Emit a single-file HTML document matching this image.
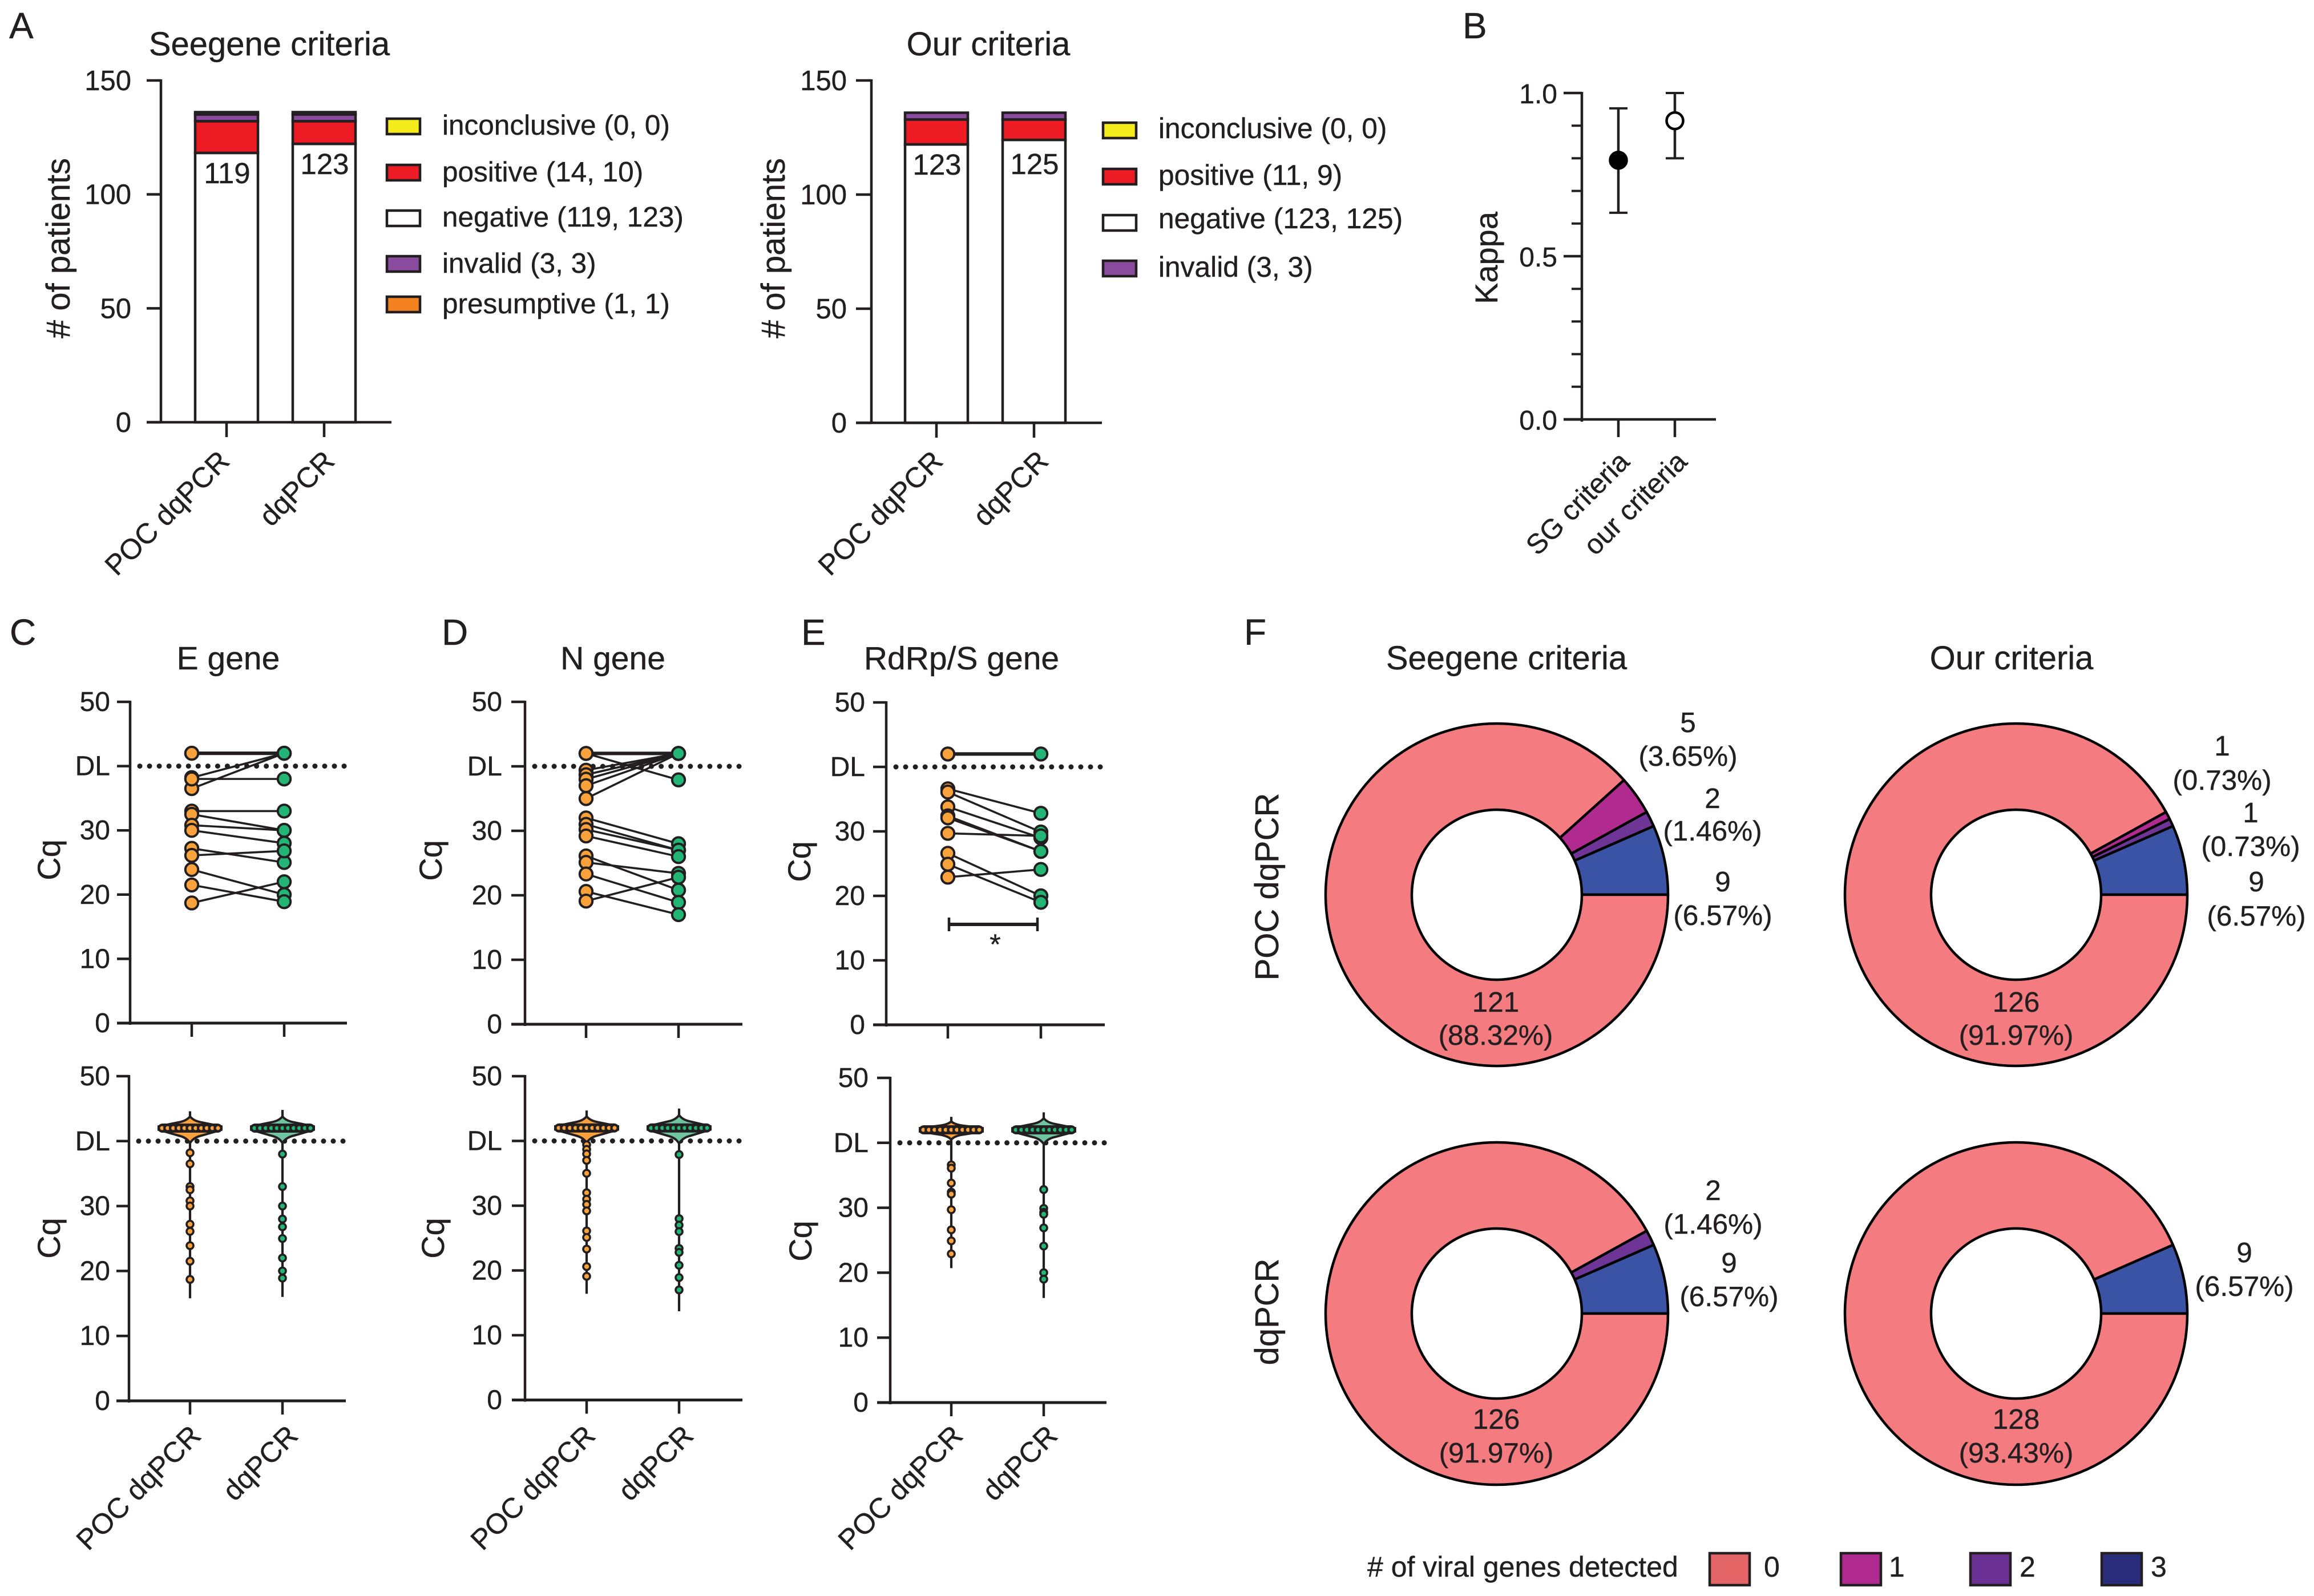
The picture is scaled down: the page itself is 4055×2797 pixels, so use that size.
<!DOCTYPE html>
<html lang="en">
<head>
<meta charset="utf-8">
<title>POC dqPCR and dqPCR comparison figure</title>
<style>
html,body{margin:0;padding:0;background:#fff;}
svg{display:block;}
text{font-family:"Liberation Sans",Arial,sans-serif;fill:#231f20;stroke:#231f20;stroke-width:.4;}
</style>
</head>
<body>
<svg id="figure" xmlns="http://www.w3.org/2000/svg" width="4055" height="2797" viewBox="0 0 4055 2797">
  <rect x="0" y="0" width="4055" height="2797" fill="#fff"/>

  <g font-size="64">
    <text x="16" y="67">A</text>
    <text x="2563" y="67">B</text>
    <text x="17" y="1130">C</text>
    <text x="774" y="1130">D</text>
    <text x="1404" y="1130">E</text>
    <text x="2180" y="1130">F</text>
  </g>

  <g font-size="57" text-anchor="middle">
    <text x="472" y="97" font-size="58">Seegene criteria</text>
    <text x="1732" y="97" font-size="58">Our criteria</text>
    <text x="400" y="1173">E gene</text>
    <text x="1074" y="1173">N gene</text>
    <text x="1685" y="1173">RdRp/S gene</text>
    <text x="2640" y="1173" font-size="58">Seegene criteria</text>
    <text x="3525" y="1173" font-size="58">Our criteria</text>
    <text transform="translate(2240,1554) rotate(-90)" font-size="58">POC dqPCR</text>
    <text transform="translate(2240,2299) rotate(-90)" font-size="58">dqPCR</text>
  </g>

  <g font-size="49.5" stroke-linejoin="miter">
    <rect x="678" y="208" width="58" height="27" fill="#f5ec1c" stroke="#231f20" stroke-width="4.5"/>
    <text x="775" y="236">inconclusive (0, 0)</text>
    <rect x="678" y="289" width="58" height="27" fill="#ed1c24" stroke="#231f20" stroke-width="4.5"/>
    <text x="775" y="318">positive (14, 10)</text>
    <rect x="678" y="369" width="58" height="27" fill="#fff" stroke="#231f20" stroke-width="4.5"/>
    <text x="775" y="397">negative (119, 123)</text>
    <rect x="678" y="449" width="58" height="27" fill="#8a4a9e" stroke="#231f20" stroke-width="4.5"/>
    <text x="775" y="478">invalid (3, 3)</text>
    <rect x="678" y="520" width="58" height="27" fill="#f58220" stroke="#231f20" stroke-width="4.5"/>
    <text x="775" y="549">presumptive (1, 1)</text>
  </g>

  <g font-size="49.7">
    <rect x="1933" y="215" width="58" height="27" fill="#f5ec1c" stroke="#231f20" stroke-width="4.5"/>
    <text x="2030" y="242">inconclusive (0, 0)</text>
    <rect x="1933" y="296" width="58" height="27" fill="#ed1c24" stroke="#231f20" stroke-width="4.5"/>
    <text x="2030" y="324">positive (11, 9)</text>
    <rect x="1933" y="377" width="58" height="27" fill="#fff" stroke="#231f20" stroke-width="4.5"/>
    <text x="2030" y="400">negative (123, 125)</text>
    <rect x="1933" y="457" width="58" height="27" fill="#8a4a9e" stroke="#231f20" stroke-width="4.5"/>
    <text x="2030" y="485">invalid (3, 3)</text>
  </g>

  <g font-size="50">
    <text x="2396" y="2763"># of viral genes detected</text>
    <rect x="2996" y="2722" width="70" height="56" fill="#e36565" stroke="#231f20" stroke-width="4.5"/>
    <text x="3091" y="2763">0</text>
    <rect x="3226" y="2722" width="70" height="56" fill="#b02a8f" stroke="#231f20" stroke-width="4.5"/>
    <text x="3310" y="2763">1</text>
    <rect x="3453" y="2722" width="70" height="56" fill="#6a3093" stroke="#231f20" stroke-width="4.5"/>
    <text x="3539" y="2763">2</text>
    <rect x="3683" y="2722" width="70" height="56" fill="#2a2c7c" stroke="#231f20" stroke-width="4.5"/>
    <text x="3769" y="2763">3</text>
  </g>
</svg>

<script>
/* ---------- panel A data ---------- */
const stackCategories = ['POC dqPCR', 'dqPCR'];
const stackTicks = [0, 50, 100, 150];
const seegeneNegative = [119, 123];
const seegenePositive = [14, 10];
const seegeneInvalid = [3, 3];
const seegenePresumptive = [1, 1];
const seegeneInconclusive = [0, 0];
const ourNegative = [123, 125];
const ourPositive = [11, 9];
const ourInvalid = [3, 3];
const ourPresumptive = [0, 0];
const ourInconclusive = [0, 0];

/* ---------- panel B data ---------- */
const kappaCategories = ['SG criteria', 'our criteria'];
const kappaValues = [0.794, 0.915];
const kappaLower = [0.633, 0.80];
const kappaUpper = [0.953, 1.0];
const kappaMajorTicks = [0, 0.5, 1];
const kappaMinorTicks = [0.1, 0.2, 0.3, 0.4, 0.6, 0.7, 0.8, 0.9];

/* ---------- panels C, D, E data ---------- */
const cqCategories = ['POC dqPCR', 'dqPCR'];
const cqTickValues = [0, 10, 20, 30, 40, 50];
const cqTickLabels = ['0', '10', '20', '30', 'DL', '50'];

const ePoc = [42, 42, 38.2, 36.5, 38, 33, 32.5, 30.8, 30, 27.2, 26.1, 23.9, 21.5, 18.7];
const eDq = [42, 42, 42, 42, 38, 33, 30, 30, 28, 25, 26.8, 20, 18.9, 22];
const nPoc = [42, 42, 42, 39.4, 38.7, 38, 37, 35, 32, 31, 30.2, 29.2, 26.1, 25.1, 23.3, 20.6, 19.1];
const nDq = [37.9, 42, 42, 42, 42, 42, 42, 42, 28, 27, 27, 26, 20.8, 23.4, 18.9, 17, 22.8];
const sPoc = [42, 42, 36.6, 36.1, 33.8, 32.4, 32.1, 29.7, 26.6, 24.9, 22.9];
const sDq = [42, 42, 32.8, 29.9, 29, 26.9, 26.9, 29.3, 20, 19, 24.1];

const eLowPoc = [42, 42, 42, 42, 42, 42, 42, 42, 42, 42, 42, 38.2, 36.5, 33, 32.5, 30.8, 30, 27.2, 26.1, 23.9, 21.5, 18.7];
const eLowDq = [42, 42, 42, 42, 42, 42, 42, 42, 42, 42, 42, 38, 33, 30, 28, 26.8, 25, 22, 20, 18.9];
const nLowPoc = [42, 42, 42, 42, 42, 42, 42, 42, 42, 42, 42, 39.4, 38.7, 38, 37, 35, 32, 31, 30.2, 29.2, 26.1, 25.1, 23.3, 20.6, 19.1];
const nLowDq = [42, 42, 42, 42, 42, 42, 42, 42, 42, 42, 42, 37.9, 28, 27, 26, 23.4, 22.8, 20.8, 18.9, 17];
const sLowPoc = [42, 42, 42, 42, 42, 42, 42, 42, 42, 42, 42, 36.6, 36.1, 33.8, 32.4, 32.1, 29.7, 26.6, 24.9, 22.9];
const sLowDq = [42, 42, 42, 42, 42, 42, 42, 42, 42, 42, 42, 32.8, 29.9, 29.3, 29, 26.9, 24.1, 20, 19];

const violinTailTopE = [44.6, 44.8];
const violinTailMinE = [15.8, 16];
const violinBulbTopE = [43.8, 43.8];
const violinBulbBottomE = [39.7, 39.7];
const violinTailTopN = [44.7, 45];
const violinTailMinN = [16.4, 13.7];
const violinBulbTopN = [43.8, 44];
const violinBulbBottomN = [39.7, 39.6];
const violinTailTopS = [44, 44.7];
const violinTailMinS = [20.7, 16.1];
const violinBulbTopS = [43.3, 43.8];
const violinBulbBottomS = [40.5, 39.8];

/* ---------- panel F data: patients with 0, 1, 2, 3 viral genes detected ---------- */
const pieSeegenePoc = [121, 5, 2, 9];
const pieOurPoc = [126, 1, 1, 9];
const pieSeegeneDq = [126, 0, 2, 9];
const pieOurDq = [128, 0, 0, 9];

/* ---------- drawing helpers ---------- */
const INK = '#231f20';
const ORANGE = '#f9a13b';
const GREEN = '#22b573';
const GREEN_LIGHT = '#6fc5a0';
const root = document.getElementById('figure');
const NS = 'http://www.w3.org/2000/svg';

function mk(tag, attrs, parent) {
  const el = document.createElementNS(NS, tag);
  for (const k in attrs) el.setAttribute(k, attrs[k]);
  parent.appendChild(el);
  return el;
}
function nameIt(el, name) {
  
  
  return el;
}
function line(parent, x1, y1, x2, y2, w, name) {
  const el = mk('line', {x1, y1, x2, y2, stroke: INK, 'stroke-width': w}, parent);
  return nameIt(el, name);
}
function label(parent, x, y, str, size, anchor, name) {
  const el = mk('text', {x, y, 'font-size': size, 'text-anchor': anchor}, parent);
  el.textContent = str;
  return nameIt(el, name);
}
function rotated(parent, x, y, deg, str, size, anchor, name) {
  const el = mk('text', {transform: 'translate(' + x + ',' + y + ') rotate(' + deg + ')', 'font-size': size, 'text-anchor': anchor}, parent);
  el.textContent = str;
  return nameIt(el, name);
}
function group(name) {
  const g = mk('g', {}, root);
  return nameIt(g, name);
}

/* ---------- panel A ---------- */
function drawStack(name, L, segments) {
  const g = group(name);
  const y = v => L.y0 - (v / 150) * (L.y0 - L.y150);
  const barY = v => L.y0 - v * 3.967;
  segments.forEach(function (seg) {
    stackCategories.forEach(function (cat, i) {
      let base = 0;
      for (const s of segments) { if (s === seg) break; base += s.values[i]; }
      if (seg.values[i] === 0) return;
      const top = base + seg.values[i];
      const r = mk('rect', {x: L.centers[i] - L.bw / 2, y: barY(top), width: L.bw, height: barY(base) - barY(top), fill: seg.fill, stroke: INK, 'stroke-width': 4.5}, g);
      nameIt(r, name + '-bar-' + seg.key + '-' + i);
    });
  });
  line(g, L.ax, L.y150 - 2, L.ax, L.y0 + 2, 4.5, name + '-y-axis');
  line(g, L.left, L.y0, L.right, L.y0, 4.5, name + '-x-axis');
  stackTicks.forEach(function (t) {
    line(g, L.left, y(t), L.ax, y(t), 4.5, name + '-y-tick-' + t);
    label(g, L.labelRight, y(t) + 17, String(t), 49, 'end', name + '-y-tick-label-' + t);
  });
  stackCategories.forEach(function (cat, i) {
    line(g, L.centers[i], L.y0, L.centers[i], L.y0 + 26, 4.5, name + '-x-tick-' + i);
    rotated(g, L.centers[i] + L.xOff[i], 811, -45, cat, 50, 'end', name + '-x-label-' + i);
    const count = segments[0].values[i];
    label(g, L.centers[i] + 1, Math.max(305, barY(count) + 53), String(count), 51, 'middle', name + '-value-' + i);
  });
  rotated(g, L.yTitleX, 435, -90, '# of patients', 58, 'middle', name + '-y-axis-title');
}
drawStack('seegene-stack', {ax: 282, y0: 740, y150: 141, left: 257, right: 686, centers: [397, 568], bw: 110, labelRight: 230, xOff: [8, 21], yTitleX: 122}, [
  {key: 'negative', values: seegeneNegative, fill: '#fff'},
  {key: 'positive', values: seegenePositive, fill: '#ed1c24'},
  {key: 'invalid', values: seegeneInvalid, fill: '#8a4a9e'},
  {key: 'presumptive', values: seegenePresumptive, fill: '#f58220'},
  {key: 'inconclusive', values: seegeneInconclusive, fill: '#f5ec1c'}
]);
drawStack('our-stack', {ax: 1527, y0: 741, y150: 141, left: 1500, right: 1931, centers: [1641, 1812], bw: 110, labelRight: 1484, xOff: [14, 28], yTitleX: 1375}, [
  {key: 'negative', values: ourNegative, fill: '#fff'},
  {key: 'positive', values: ourPositive, fill: '#ed1c24'},
  {key: 'invalid', values: ourInvalid, fill: '#8a4a9e'},
  {key: 'presumptive', values: ourPresumptive, fill: '#f58220'},
  {key: 'inconclusive', values: ourInconclusive, fill: '#f5ec1c'}
]);

/* ---------- panel B ---------- */
(function drawKappa() {
  const g = group('kappa-chart');
  const y = v => 735 - v * 572;
  const xs = [2836, 2935];
  line(g, 2772, y(1) - 2, 2772, y(0) + 4, 4.5, 'kappa-y-axis');
  line(g, 2740, y(0), 3007, y(0), 4.5, 'kappa-x-axis');
  kappaMajorTicks.forEach(function (t) {
    line(g, 2740, y(t), 2772, y(t), 4.5, 'kappa-major-tick-' + t);
    label(g, 2729, y(t) + 18, t.toFixed(1), 48, 'end', 'kappa-tick-label-' + t);
  });
  kappaMinorTicks.forEach(function (t) {
    line(g, 2754, y(t), 2772, y(t), 4, 'kappa-minor-tick-' + t);
  });
  kappaCategories.forEach(function (cat, i) {
    line(g, xs[i], y(0), xs[i], 766, 4.5, 'kappa-x-tick-' + i);
    rotated(g, xs[i] + [22, 24][i], 812, -45, cat, 49, 'end', 'kappa-x-label-' + i);
    line(g, xs[i], y(kappaLower[i]), xs[i], y(kappaUpper[i]), 4.5, 'kappa-error-bar-' + i);
    line(g, xs[i] - 16, y(kappaLower[i]), xs[i] + 16, y(kappaLower[i]), 4, 'kappa-lower-cap-' + i);
    line(g, xs[i] - 16, y(kappaUpper[i]), xs[i] + 16, y(kappaUpper[i]), 4, 'kappa-upper-cap-' + i);
    const c = mk('circle', {cx: xs[i], cy: y(kappaValues[i]), r: 14.5, fill: i === 0 ? '#000' : '#fff', stroke: '#000', 'stroke-width': 4.5}, g);
    nameIt(c, 'kappa-point-' + i);
  });
  rotated(g, 2624, 452, -90, 'Kappa', 56, 'middle', 'kappa-y-axis-title');
})();

/* ---------- panels C, D, E ---------- */
function cqAxes(g, name, L, y) {
  line(g, L.ax, y(50) - 2, L.ax, y(0) + 3, 4.5, name + '-y-axis');
  line(g, L.left, y(0), L.right, y(0), 5, name + '-x-axis');
  cqTickValues.forEach(function (t, i) {
    line(g, L.left, y(t), L.ax, y(t), 4.5, name + '-y-tick-' + cqTickLabels[i]);
    label(g, L.labelRight, y(t) + 16, cqTickLabels[i], 48, 'end', name + '-y-tick-label-' + cqTickLabels[i]);
  });
  cqCategories.forEach(function (cat, i) {
    line(g, L.xs[i], y(0), L.xs[i], y(0) + 24, 4.5, name + '-x-tick-' + i);
    if (L.xOff) rotated(g, L.xs[i] + L.xOff[i], 2519, -45, cat, 50, 'end', name + '-x-label-' + i);
  });
  const d = mk('line', {x1: L.ax + 17, y1: y(40), x2: L.right - 2, y2: y(40), stroke: INK, 'stroke-width': 9, 'stroke-linecap': 'round', 'stroke-dasharray': '0 17.05'}, g);
  nameIt(d, name + '-detection-limit-line');
  rotated(g, L.titleX, L.titleY, -90, 'Cq', 56, 'middle', name + '-y-axis-title');
}

function drawPaired(name, L, poc, dq) {
  const g = group(name);
  const y = v => L.y0 - (v / 50) * (L.y0 - L.y50);
  cqAxes(g, name, L, y);
  poc.forEach(function (v, i) {
    const dup = poc.filter((p, j) => p === v && dq[j] === dq[i]).length;
    line(g, L.xs[0], y(v), L.xs[1], y(dq[i]), dup > 1 ? 6 : 3.6, name + '-pair-line-' + i);
  });
  poc.forEach(function (v, i) {
    const c = mk('circle', {cx: L.xs[0], cy: y(v), r: 11.2, fill: ORANGE, stroke: INK, 'stroke-width': 4}, g);
    nameIt(c, name + '-poc-point-' + i);
  });
  dq.forEach(function (v, i) {
    const c = mk('circle', {cx: L.xs[1], cy: y(v), r: 11.2, fill: GREEN, stroke: INK, 'stroke-width': 4}, g);
    nameIt(c, name + '-dq-point-' + i);
  });
  return {g, y};
}

function drawViolin(g, name, cx, y, tailTop, tailMin, bulbTop, bulbBottom, fill, dot, values) {
  const row = y(42);
  const top = y(bulbTop);
  const bot = y(bulbBottom);
  const hw = 55;
  line(g, cx, y(tailTop), cx, y(tailMin), 4.2, name + '-tail');
  const upper = row - top;
  const lower = bot - row;
  const d = 'M' + cx + ' ' + top +
    ' Q' + (cx + 6) + ' ' + (top + upper * 0.38) + ' ' + (cx + 20) + ' ' + (top + upper * 0.5) +
    ' L' + (cx + hw) + ' ' + (row - 3) +
    ' L' + (cx + hw) + ' ' + (row + 3) +
    ' L' + (cx + 20) + ' ' + (bot - lower * 0.5) +
    ' Q' + (cx + 6) + ' ' + (bot - lower * 0.38) + ' ' + cx + ' ' + bot +
    ' Q' + (cx - 6) + ' ' + (bot - lower * 0.38) + ' ' + (cx - 20) + ' ' + (bot - lower * 0.5) +
    ' L' + (cx - hw) + ' ' + (row + 3) +
    ' L' + (cx - hw) + ' ' + (row - 3) +
    ' L' + (cx - 20) + ' ' + (top + upper * 0.5) +
    ' Q' + (cx - 6) + ' ' + (top + upper * 0.38) + ' ' + cx + ' ' + top + ' Z';
  const shape = mk('path', {d: d, fill: fill, stroke: INK, 'stroke-width': 4}, g);
  nameIt(shape, name + '-violin');
  const pill = mk('rect', {x: cx - 56, y: row - 8, width: 112, height: 16, rx: 8, fill: INK}, g);
  nameIt(pill, name + '-violin-median-band');
  const counts = {};
  values.forEach(v => { counts[v] = (counts[v] || 0) + 1; });
  const seen = {};
  values.forEach(function (v, i) {
    const n = counts[v];
    const k = seen[v] || 0;
    seen[v] = k + 1;
    const off = n > 1 ? (k - (n - 1) / 2) * (98 / (n - 1)) : 0;
    const c = mk('circle', {cx: cx + off, cy: y(v), r: n > 1 ? 5.6 : 6, fill: dot, stroke: INK, 'stroke-width': n > 1 ? 4.2 : 3.6}, g);
    nameIt(c, name + '-point-' + i);
  });
}

function drawLower(name, L, pocVals, dqVals, tops, mins, bulbTops, bulbBottoms) {
  const g = group(name);
  const y = v => L.y0 - (v / 50) * (L.y0 - L.y50);
  cqAxes(g, name, L, y);
  drawViolin(g, name + '-poc', L.xs[0], y, tops[0], mins[0], bulbTops[0], bulbBottoms[0], ORANGE, ORANGE, pocVals);
  drawViolin(g, name + '-dq', L.xs[1], y, tops[1], mins[1], bulbTops[1], bulbBottoms[1], GREEN_LIGHT, GREEN, dqVals);
}

drawPaired('e-gene-paired', {ax: 228, y0: 1793, y50: 1230, left: 205, right: 608, xs: [336, 498], labelRight: 193, titleX: 105, titleY: 1507}, ePoc, eDq);
drawPaired('n-gene-paired', {ax: 920, y0: 1795, y50: 1230, left: 896, right: 1301, xs: [1027, 1189], labelRight: 880, titleX: 774, titleY: 1508}, nPoc, nDq);
const sPanel = drawPaired('rdrp-s-gene-paired', {ax: 1553, y0: 1796, y50: 1231, left: 1530, right: 1936, xs: [1661, 1824], labelRight: 1516, titleX: 1420, titleY: 1510}, sPoc, sDq);
line(sPanel.g, 1663, 1620, 1818, 1620, 6, 'significance-bracket');
line(sPanel.g, 1663, 1608, 1663, 1632, 4.5, 'significance-bracket-left-cap');
line(sPanel.g, 1818, 1608, 1818, 1632, 4.5, 'significance-bracket-right-cap');
label(sPanel.g, 1744, 1672, '*', 50, 'middle', 'significance-star');

drawLower('e-gene-violin', {ax: 226, y0: 2455, y50: 1886, left: 204, right: 606, xs: [333, 495], labelRight: 193, titleX: 105, titleY: 2170, xOff: [22, 30]}, eLowPoc, eLowDq, violinTailTopE, violinTailMinE, violinBulbTopE, violinBulbBottomE);
drawLower('n-gene-violin', {ax: 920, y0: 2453.5, y50: 1886, left: 897, right: 1301, xs: [1028, 1190], labelRight: 880, titleX: 778, titleY: 2170, xOff: [18, 28]}, nLowPoc, nLowDq, violinTailTopN, violinTailMinN, violinBulbTopN, violinBulbBottomN);
drawLower('rdrp-s-gene-violin', {ax: 1560, y0: 2458, y50: 1889, left: 1537, right: 1939, xs: [1667, 1829], labelRight: 1522, titleX: 1422, titleY: 2175, xOff: [23, 27]}, sLowPoc, sLowDq, violinTailTopS, violinTailMinS, violinBulbTopS, violinBulbBottomS);

/* ---------- panel F ---------- */
const sliceColors = ['#f47c80', '#b02a8f', '#6f3596', '#3a53a4'];
function drawDonut(name, cx, cy, values, labelSpots) {
  const g = group(name);
  const total = values.reduce((a, b) => a + b, 0);
  const R = 300, r = 149;
  let a0 = 0;
  [3, 2, 1, 0].forEach(function (idx) {
    const v = values[idx];
    if (!v) return;
    const a1 = a0 + (v / total) * Math.PI * 2;
    const large = (a1 - a0) > Math.PI ? 1 : 0;
    const pt = (rad, a) => (cx + rad * Math.cos(a)) + ' ' + (cy - rad * Math.sin(a));
    const d = 'M' + pt(R, a0) + ' A' + R + ' ' + R + ' 0 ' + large + ' 0 ' + pt(R, a1) +
      ' L' + pt(r, a1) + ' A' + r + ' ' + r + ' 0 ' + large + ' 1 ' + pt(r, a0) + ' Z';
    const p = mk('path', {d: d, fill: sliceColors[idx], stroke: '#000', 'stroke-width': 4.5, 'stroke-linejoin': 'round'}, g);
    nameIt(p, name + '-slice-' + idx + '-genes');
    a0 = a1;
  });
  labelSpots.forEach(function (s) {
    const v = values[s.idx];
    label(g, s.x, s.y1, String(v), 49.5, 'middle', name + '-count-' + s.idx);
    label(g, s.x, s.y2, '(' + (v / total * 100).toFixed(2) + '%)', 49.5, 'middle', name + '-percent-' + s.idx);
  });
}
drawDonut('donut-seegene-poc', 2623, 1568, pieSeegenePoc, [
  {idx: 0, x: 2621, y1: 1773, y2: 1831},
  {idx: 1, x: 2958, y1: 1283, y2: 1342},
  {idx: 2, x: 3001, y1: 1416, y2: 1473},
  {idx: 3, x: 3019, y1: 1562, y2: 1621}
]);
drawDonut('donut-our-poc', 3533, 1568, pieOurPoc, [
  {idx: 0, x: 3533, y1: 1773, y2: 1831},
  {idx: 1, x: 3894, y1: 1324, y2: 1384},
  {idx: 2, x: 3944, y1: 1441, y2: 1500},
  {idx: 3, x: 3954, y1: 1562, y2: 1622}
]);
drawDonut('donut-seegene-dq', 2623, 2302, pieSeegeneDq, [
  {idx: 0, x: 2622, y1: 2504, y2: 2563},
  {idx: 2, x: 3002, y1: 2103, y2: 2162},
  {idx: 3, x: 3030, y1: 2230, y2: 2289}
]);
drawDonut('donut-our-dq', 3533, 2302, pieOurDq, [
  {idx: 0, x: 3533, y1: 2504, y2: 2563},
  {idx: 3, x: 3933, y1: 2212, y2: 2271}
]);
</script>
</body>
</html>
